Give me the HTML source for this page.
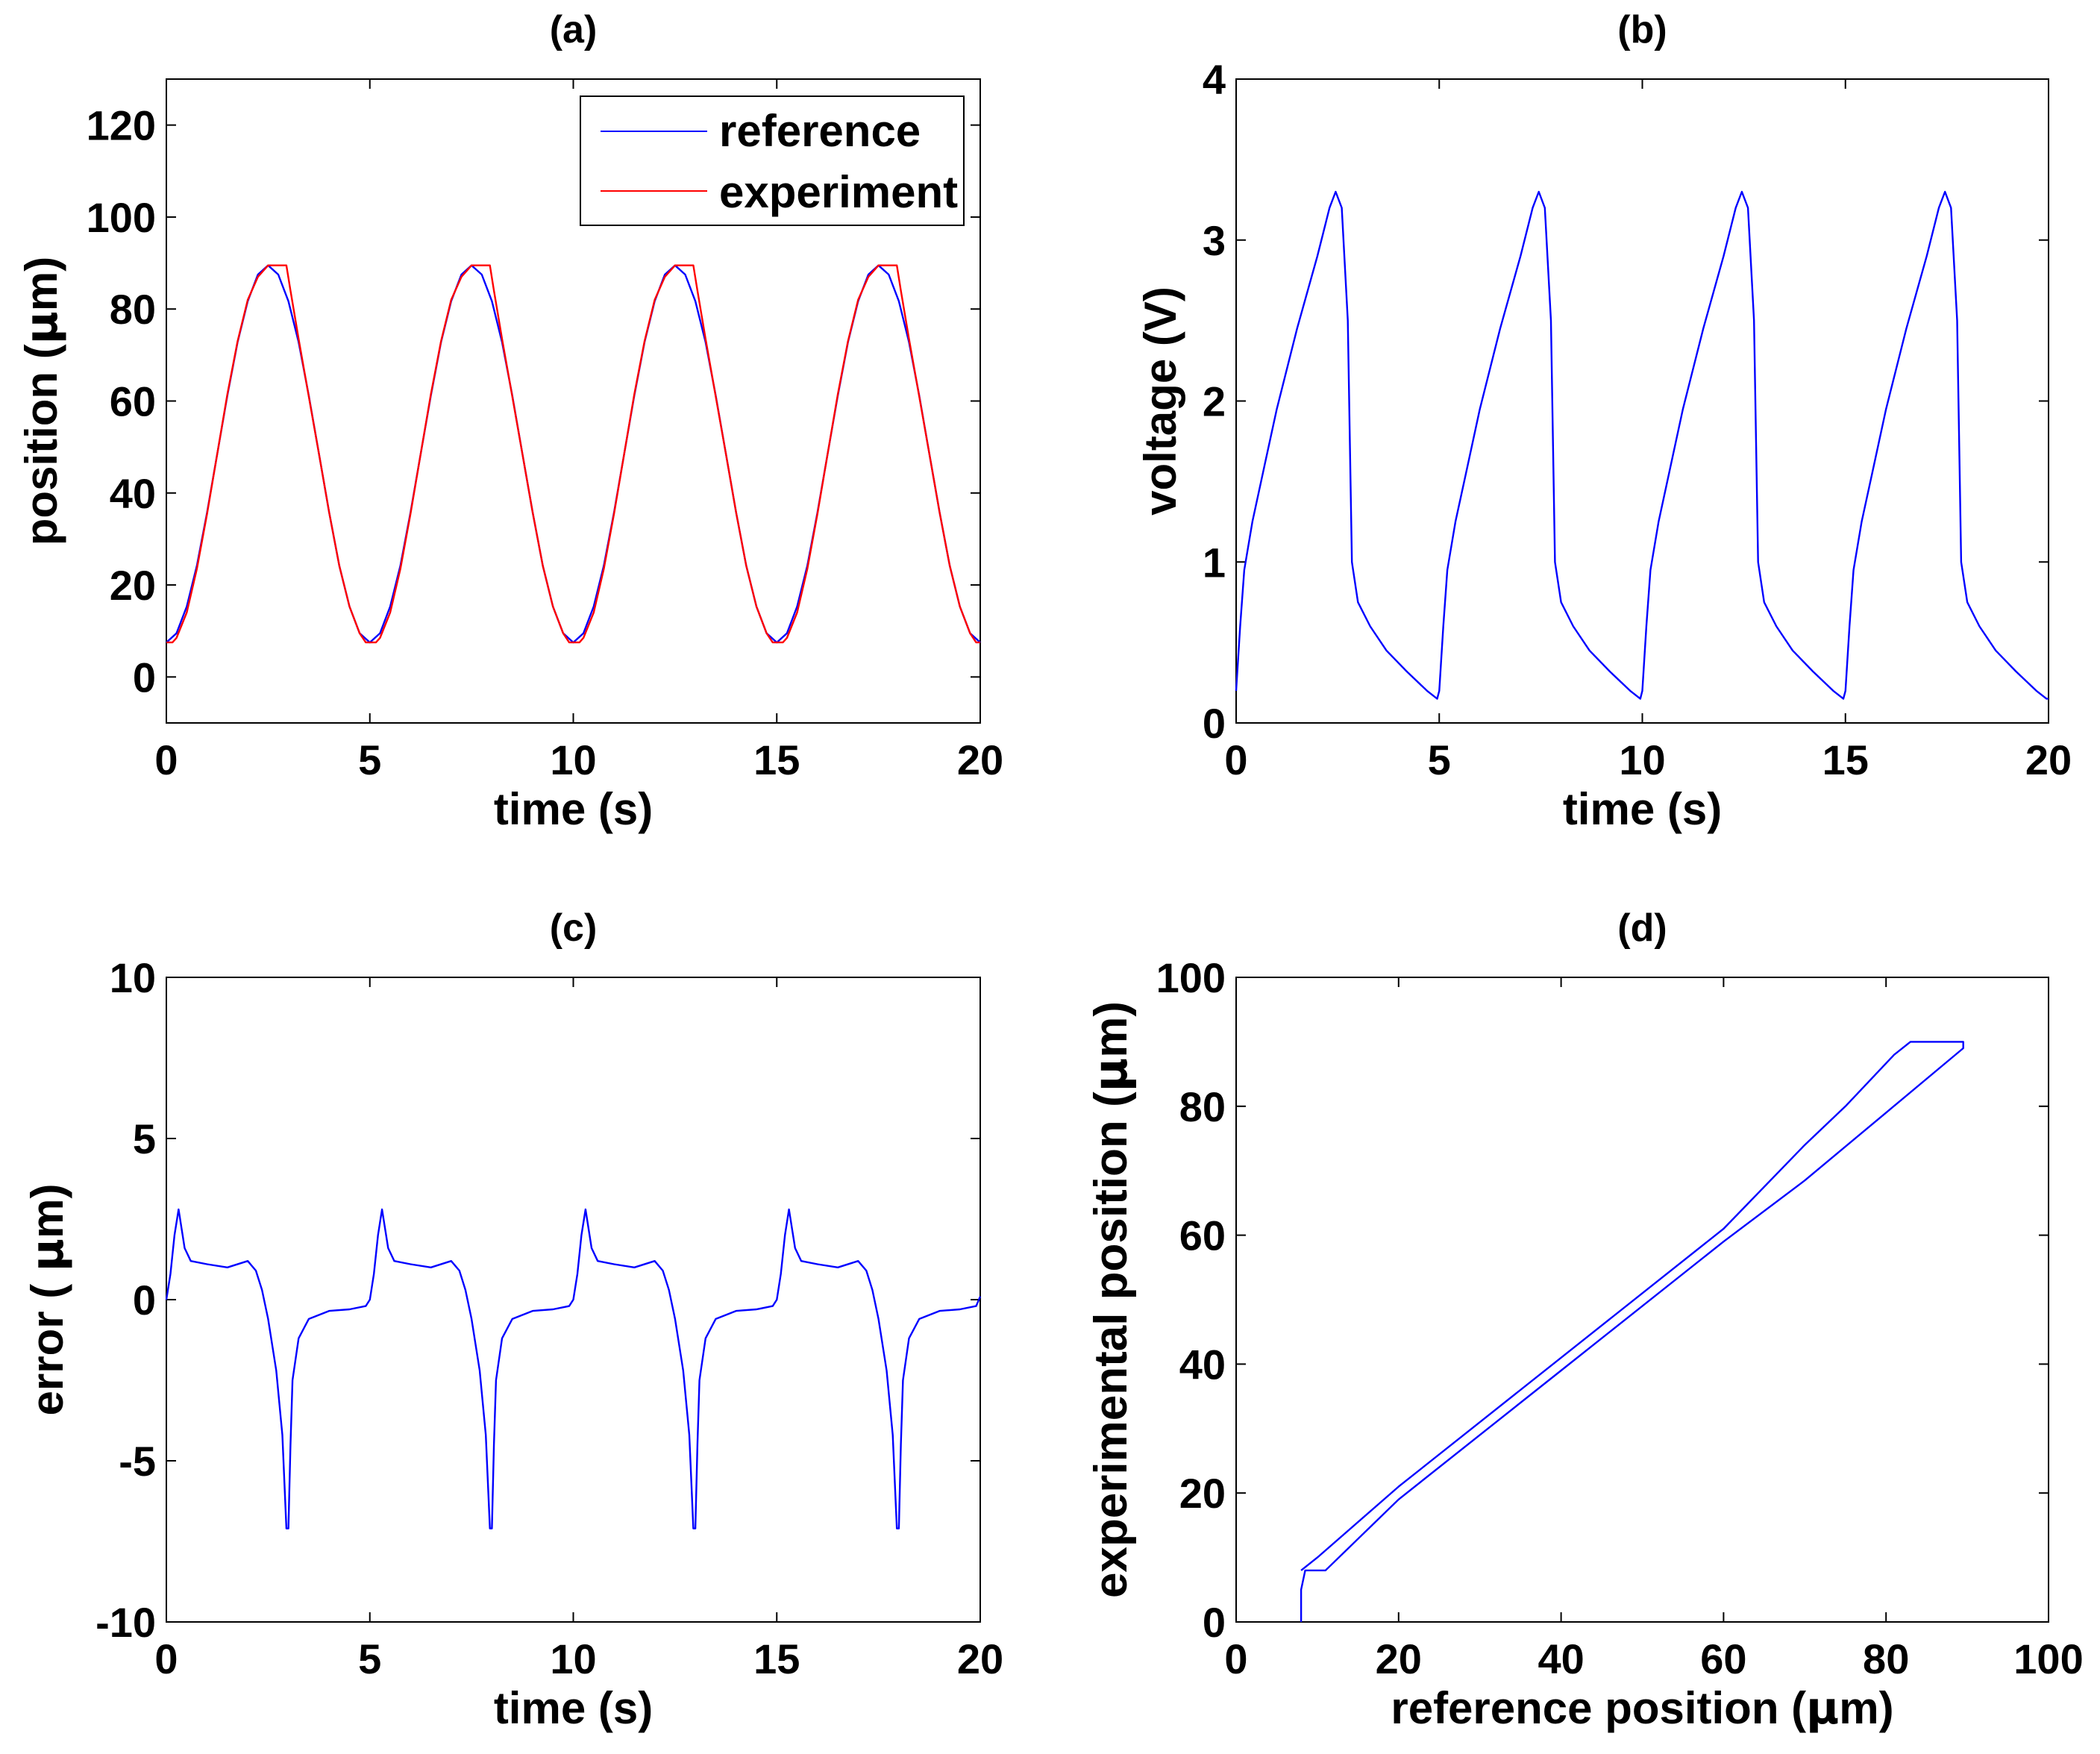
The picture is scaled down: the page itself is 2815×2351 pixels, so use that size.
<!DOCTYPE html>
<html><head><meta charset="utf-8"><style>
html,body{margin:0;padding:0;background:#fff;}
svg{display:block;font-family:"Liberation Sans",Arial,sans-serif;font-weight:bold;}
</style></head><body>
<svg id="fig" width="2815" height="2351" viewBox="0 0 2815 2351" xmlns="http://www.w3.org/2000/svg"></svg>
<script>
// ---- data (a) ----
const cycleOffsets = [0, 5, 10, 15];
const refCycT = [0,0.25,0.5,0.75,1,1.25,1.5,1.75,2,2.25,2.5,2.75,3,3.25,3.5,3.75,4,4.25,4.5,4.75];
const refCycY = [7.5,9.5,15.3,24.2,35.8,48.5,61.2,72.8,81.7,87.5,89.5,87.5,81.7,72.8,61.2,48.5,35.8,24.2,15.3,9.5];
const expCycT = [0,0.15,0.25,0.5,0.75,1,1.25,1.5,1.75,2,2.25,2.5,2.95,3.05,3.25,3.5,3.75,4,4.25,4.5,4.75,4.9];
const expCycY = [7.5,7.5,8.5,14,23.5,35.5,48.5,61.5,73,82,87,89.5,89.5,84,73.5,61,48.5,35.8,24.2,15.3,9.5,7.5];
const endT = 20, endY = 7.5;
// ---- data (b) ----
const voltCycT = [0,0.1,0.2,0.4,0.7,1,1.5,2,2.3,2.45,2.6,2.75,2.85,3.0,3.3,3.7,4.2,4.7,4.95];
const voltCycY = [0.2,0.6,0.95,1.25,1.6,1.95,2.45,2.9,3.2,3.3,3.2,2.5,1.0,0.75,0.6,0.45,0.32,0.2,0.15];
// ---- data (c) ----
const errCycT = [0,0.1,0.2,0.3,0.45,0.6,1,1.5,2,2.2,2.35,2.5,2.7,2.85,2.95,3.0,3.05,3.1,3.25,3.5,4,4.5,4.9];
const errCycY = [0.0,0.8,2.0,2.8,1.6,1.2,1.1,1.0,1.2,0.9,0.3,-0.6,-2.2,-4.2,-7.1,-7.1,-4.5,-2.5,-1.2,-0.6,-0.35,-0.3,-0.2];
// ---- data (d) ----
const loopX = [8,8,8.5,11,20,40,60,70,80,89.5,89.5,83,81,75,70,60,40,20,10,8];
const loopY = [0,5,8,8,19,39,59,68.5,79,89,90,90,88,80,74,61,41,21,10,8];

const NS="http://www.w3.org/2000/svg";
const svg=document.getElementById('fig');
function el(tag,attrs,parent){const e=document.createElementNS(NS,tag);for(const k in attrs)e.setAttribute(k,attrs[k]);(parent||svg).appendChild(e);return e;}
function txt(s,attrs,parent){const e=el('text',attrs,parent);e.textContent=s;return e;}

function axes(o){
  const g=el('g',{});
  
  
  const sx=v=>o.x0+(v-o.xmin)/(o.xmax-o.xmin)*(o.x1-o.x0);
  const sy=v=>o.y1-(v-o.ymin)/(o.ymax-o.ymin)*(o.y1-o.y0);
  const box=el('rect',{x:o.x0,y:o.y0,width:o.x1-o.x0,height:o.y1-o.y0,fill:'none',stroke:'#000','stroke-width':2},g);
  
  
  o.xt.forEach(v=>{const X=sx(v);
    el('line',{x1:X,y1:o.y1,x2:X,y2:o.y1-13,stroke:'#000','stroke-width':2},g);
    el('line',{x1:X,y1:o.y0,x2:X,y2:o.y0+13,stroke:'#000','stroke-width':2},g);
    const t=txt(String(v),{x:X,y:o.y1+69,'font-size':56,'text-anchor':'middle'},g);
    
    
  });
  o.yt.forEach(v=>{const Y=sy(v);
    el('line',{x1:o.x0,y1:Y,x2:o.x0+13,y2:Y,stroke:'#000','stroke-width':2},g);
    el('line',{x1:o.x1,y1:Y,x2:o.x1-13,y2:Y,stroke:'#000','stroke-width':2},g);
    const t=txt(String(v),{x:o.x0-14,y:Y+20,'font-size':56,'text-anchor':'end'},g);
    
    
  });
  const tt=txt(o.title,{x:(o.x0+o.x1)/2,y:o.y0-49,'font-size':52,'text-anchor':'middle'},g);
  
  
  const xl=txt('',{x:(o.x0+o.x1)/2,y:o.y1+136,'font-size':60,'text-anchor':'middle'},g);
  xl.innerHTML=o.xlabel;
  
  
  const cy=(o.y0+o.y1)/2;
  const yl=txt('',{x:o.ylx,y:cy,'font-size':o.ylfs||60,'text-anchor':'middle',transform:`rotate(-90 ${o.ylx} ${cy})`},g);
  yl.innerHTML=o.ylabel;
  
  
  return {g,sx,sy};
}
function polyline(ax,xs,ys,color,name){
  const pts=xs.map((x,i)=>ax.sx(x).toFixed(1)+','+ax.sy(ys[i]).toFixed(1)).join(' ');
  const p=el('polyline',{points:pts,fill:'none',stroke:color,'stroke-width':2.4,'stroke-linejoin':'round'},ax.g);
  
  
}
function repeatCycles(ct,cy,endX,endV){
  const xs=[],ys=[];
  cycleOffsets.forEach(off=>{ct.forEach((t,i)=>{xs.push(t+off);ys.push(cy[i]);});});
  if(endX!==undefined){xs.push(endX);ys.push(endV);}
  return [xs,ys];
}
const L=223,R=1314,L2=1657,R2=2746,T1=106,B1=969,T2=1310,B2=2174;
const MU='<tspan font-family="DejaVu Sans">μ</tspan>';

// (a)
const A=axes({name:'panel-a',x0:L,x1:R,y0:T1,y1:B1,xmin:0,xmax:20,ymin:-10,ymax:130,xt:[0,5,10,15,20],yt:[0,20,40,60,80,100,120],title:'(a)',xlabel:'time (s)',ylabel:'position ('+MU+'m)',ylx:76});
let r=repeatCycles(refCycT,refCycY,endT,endY);
polyline(A,r[0],r[1],'#0000ff','reference-line');
r=repeatCycles(expCycT,expCycY,endT,endY);
polyline(A,r[0],r[1],'#ff0000','experiment-line');
const lg=el('g',{},A.g);


el('rect',{x:778,y:129,width:514,height:173,fill:'#fff',stroke:'#000','stroke-width':2},lg);
el('line',{x1:805,y1:176,x2:948,y2:176,stroke:'#0000ff','stroke-width':2},lg);
el('line',{x1:805,y1:256,x2:948,y2:256,stroke:'#ff0000','stroke-width':2},lg);
const le1=txt('reference',{x:964,y:196,'font-size':60},lg);


const le2=txt('experiment',{x:964,y:278,'font-size':60},lg);



// (b)
const Bx=axes({name:'panel-b',x0:L2,x1:R2,y0:T1,y1:B1,xmin:0,xmax:20,ymin:0,ymax:4,xt:[0,5,10,15,20],yt:[0,1,2,3,4],title:'(b)',xlabel:'time (s)',ylabel:'voltage (V)',ylx:1576});
r=repeatCycles(voltCycT,voltCycY,20,0.15);
polyline(Bx,r[0],r[1],'#0000ff','voltage-line');

// (c)
const C=axes({name:'panel-c',x0:L,x1:R,y0:T2,y1:B2,xmin:0,xmax:20,ymin:-10,ymax:10,xt:[0,5,10,15,20],yt:[-10,-5,0,5,10],title:'(c)',xlabel:'time (s)',ylabel:'error ( '+MU+'m)',ylx:84});
r=repeatCycles(errCycT,errCycY,20,0.1);
polyline(C,r[0],r[1],'#0000ff','error-line');

// (d)
const D=axes({name:'panel-d',x0:L2,x1:R2,y0:T2,y1:B2,xmin:0,xmax:100,ymin:0,ymax:100,xt:[0,20,40,60,80,100],yt:[0,20,40,60,80,100],title:'(d)',xlabel:'reference position ('+MU+'m)',ylabel:'experimental position ('+MU+'m)',ylx:1510,ylfs:62});
polyline(D,loopX,loopY,'#0000ff','hysteresis-loop');
</script>
</body></html>
